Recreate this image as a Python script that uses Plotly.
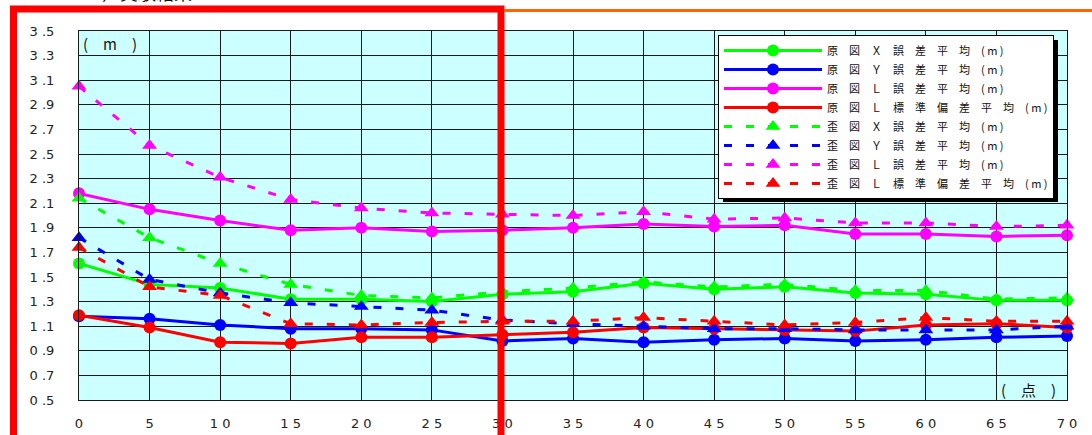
import plotly.graph_objects as go

# ---- data ----
points = [0, 5, 10, 15, 20, 25, 30, 35, 40, 45, 50, 55, 60, 65, 70]

orig_x_err = [1.61, 1.44, 1.41, 1.32, 1.32, 1.30, 1.36, 1.38, 1.45, 1.40, 1.42, 1.37, 1.36, 1.31, 1.31]
orig_y_err = [1.18, 1.16, 1.11, 1.08, 1.08, 1.07, 0.98, 1.00, 0.97, 0.99, 1.00, 0.98, 0.99, 1.01, 1.02]
orig_l_err = [2.18, 2.05, 1.96, 1.88, 1.90, 1.87, 1.88, 1.90, 1.93, 1.91, 1.92, 1.85, 1.85, 1.83, 1.84]
orig_l_std = [1.19, 1.09, 0.97, 0.96, 1.01, 1.01, 1.03, 1.05, 1.09, 1.08, 1.07, 1.06, 1.11, 1.12, 1.09]

dist_x_err = [2.14, 1.82, 1.61, 1.44, 1.35, 1.33, 1.38, 1.41, 1.46, 1.42, 1.44, 1.39, 1.39, 1.32, 1.33]
dist_y_err = [1.82, 1.48, 1.37, 1.29, 1.26, 1.23, 1.15, 1.12, 1.10, 1.08, 1.08, 1.07, 1.07, 1.07, 1.10]
dist_l_err = [3.05, 2.57, 2.31, 2.13, 2.06, 2.02, 2.01, 2.00, 2.03, 1.97, 1.98, 1.94, 1.94, 1.91, 1.92]
dist_l_std = [1.74, 1.42, 1.35, 1.12, 1.11, 1.13, 1.14, 1.14, 1.17, 1.14, 1.11, 1.13, 1.17, 1.14, 1.14]

series_names = [
    "原　図　Ｘ　誤　差　平　均　( m )",
    "原　図　Ｙ　誤　差　平　均　( m )",
    "原　図　Ｌ　誤　差　平　均　( m )",
    "原　図　Ｌ　標　準　偏　差　平　均　( m )",
    "歪　図　Ｘ　誤　差　平　均　( m )",
    "歪　図　Ｙ　誤　差　平　均　( m )",
    "歪　図　Ｌ　誤　差　平　均　( m )",
    "歪　図　Ｌ　標　準　偏　差　平　均　( m )",
]
series_values = [orig_x_err, orig_y_err, orig_l_err, orig_l_std,
                 dist_x_err, dist_y_err, dist_l_err, dist_l_std]

y_ticks = [0.5, 0.7, 0.9, 1.1, 1.3, 1.5, 1.7, 1.9, 2.1, 2.3, 2.5, 2.7, 2.9, 3.1, 3.3, 3.5]
x_ticks = points

# ---- styles ----
colors = ["#00FF00", "#0000FF", "#FF00FF", "#FF0000"] * 2
FONT = "Noto Sans CJK JP"
TICKFONT = "DejaVu Sans"
W, H = 1092, 435
L, R, T, B = 79, 25, 31, 35
PW, PH = W - L - R, H - T - B


def px_x(p):
    return (p - L) / PW


def px_y(p):
    return 1 - (p - T) / PH


fig = go.Figure()
for i, (name, vals) in enumerate(zip(series_names, series_values)):
    solid = i < 4
    fig.add_trace(go.Scatter(
        x=points, y=vals, name=name, mode="lines+markers",
        line=dict(color=colors[i], width=3, dash="solid" if solid else "8px,14px"),
        marker=dict(symbol="circle" if solid else "triangle-up",
                    size=12 if solid else 13, color=colors[i]),
        cliponaxis=False,
    ))

fig.update_xaxes(
    range=[0, 70], tickvals=x_ticks,
    ticktext=[" ".join(str(v)) for v in x_ticks],
    showgrid=True, gridcolor="#1a1a1a", gridwidth=1,
    showline=True, linecolor="#1a1a1a", linewidth=1, mirror=True,
    zeroline=False, ticks="", ticklabelstandoff=11,
    tickfont=dict(family=TICKFONT, size=13, color="#222"),
)
fig.update_yaxes(
    range=[0.5, 3.5], tickvals=y_ticks,
    ticktext=[" ".join(f"{v:.1f}").replace(" . ", " .") for v in y_ticks],
    showgrid=True, gridcolor="#1a1a1a", gridwidth=1,
    showline=True, linecolor="#1a1a1a", linewidth=1, mirror=True,
    zeroline=False, ticks="", ticklabelstandoff=21,
    tickfont=dict(family=TICKFONT, size=13, color="#222"),
)

LEG_L, LEG_T, LEG_R, LEG_B = 718, 35, 1053, 197
shapes = [
    # legend shadow
    dict(type="rect", xref="paper", yref="paper", layer="above",
         x0=px_x(LEG_L + 5), x1=px_x(LEG_R + 5), y0=px_y(LEG_B + 5), y1=px_y(LEG_T + 5),
         fillcolor="black", line=dict(width=0)),
    # red highlight frame
    dict(type="rect", xref="paper", yref="paper", layer="above",
         x0=px_x(13.5), x1=px_x(501), y0=px_y(460), y1=px_y(9),
         line=dict(color="#FF0000", width=7), fillcolor="rgba(0,0,0,0)"),
    # orange rule
    dict(type="line", xref="paper", yref="paper", layer="above",
         x0=px_x(504), x1=px_x(1092), y0=px_y(10.5), y1=px_y(10.5),
         line=dict(color="#FF6600", width=3)),
]

annotations = [
    dict(text="(　m　)", xref="paper", yref="paper", x=px_x(110), y=px_y(44),
         xanchor="center", yanchor="middle",
         showarrow=False, font=dict(family=FONT, size=15, color="#111")),
    dict(text="(　点　)", xref="paper", yref="paper", x=px_x(1028), y=px_y(389),
         xanchor="center", yanchor="middle",
         showarrow=False, font=dict(family=FONT, size=15, color="#111")),
    dict(text="２）実験結果", xref="paper", yref="paper", x=px_x(82), y=px_y(7),
         xanchor="left", yanchor="bottom", showarrow=False,
         font=dict(family=FONT, size=18, color="#111")),
]

fig.update_layout(
    width=W, height=H,
    margin=dict(l=L, r=R, t=T, b=B, pad=0, autoexpand=False),
    paper_bgcolor="white", plot_bgcolor="#CCFFFF",
    font=dict(family=FONT, color="#111"),
    showlegend=True,
    legend=dict(x=px_x(LEG_L), y=px_y(LEG_T), xanchor="left", yanchor="top",
                bgcolor="white", bordercolor="black", borderwidth=1,
                font=dict(family=FONT, size=11, color="#111"),
                itemwidth=98, tracegroupgap=0),
    shapes=shapes, annotations=annotations,
)

fig.write_html("out.html", config={"displayModeBar": False},
               post_script="document.body.style.margin='0';document.body.style.padding='0';")
